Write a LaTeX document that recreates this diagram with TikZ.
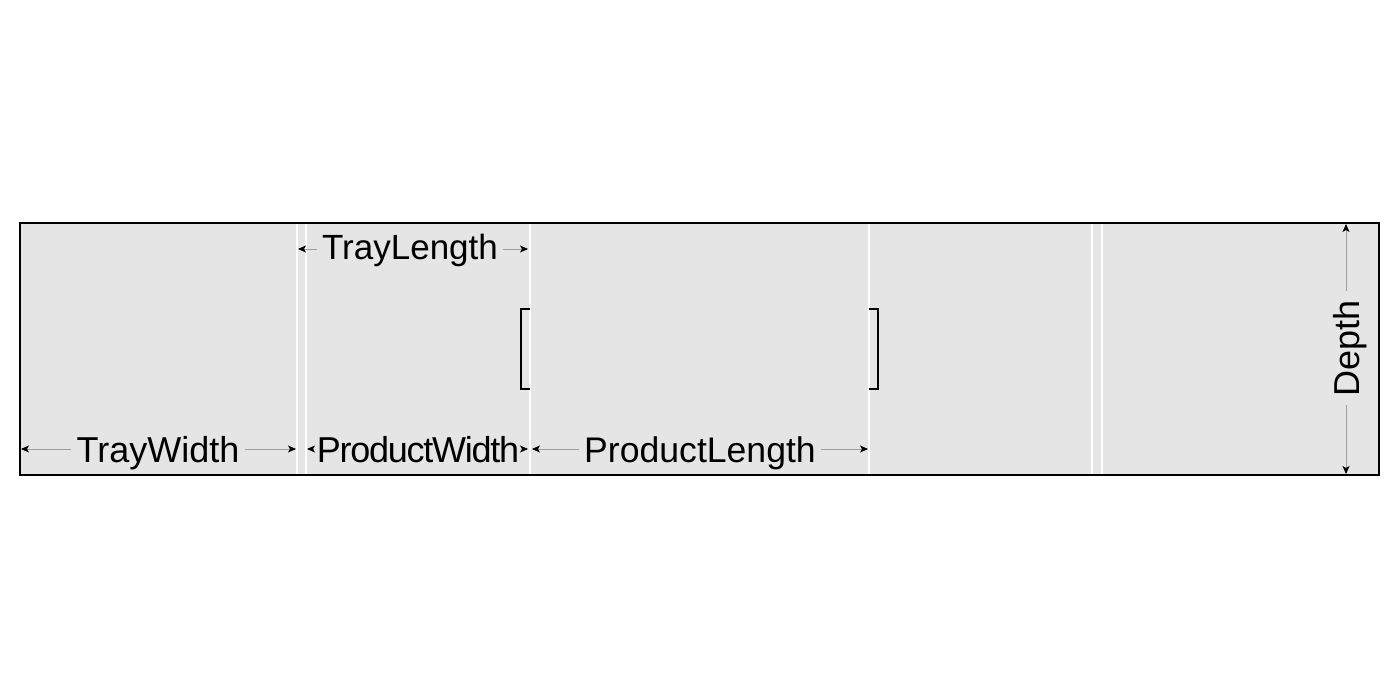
\documentclass[tikz,border=0pt]{standalone}
\usepackage{fontspec}
\setmainfont{Liberation Sans}
\newfontfamily\tightfont[LetterSpace=-3.5]{Liberation Sans}
\usetikzlibrary{arrows.meta}
\begin{document}
\begin{tikzpicture}[x=1pt,y=-1pt,
  dimline/.style={draw=black!38, line width=0.8pt, -{Stealth[length=8pt,width=7pt,inset=2pt,color=black]}},
  dimtext/.style={font=\fontsize{36}{40}\selectfont, inner xsep=5pt, inner ysep=0pt, text height=26pt, text depth=0pt},
  sep/.style={draw=white, line width=1.6pt},
  brk/.style={draw=black, line width=1.5pt}]
\useasboundingbox (0,0) rectangle (1400,700);
\fill[white] (0,0) rectangle (1400,700);
% tray
\path[fill=black!10] (20,223) rectangle (1379,475);
% separators
\foreach \x in {297,306,530,869,1092,1102}
  \draw[sep] (\x,224) -- (\x,474);
\draw[black, line width=1.5pt] (20,223) rectangle (1379,475);
% brackets
\draw[brk] (530,309) -- (521,309) -- (521,389) -- (530,389);
\draw[brk] (869,309) -- (878,309) -- (878,389) -- (869,389);
% coordinates
\coordinate (twL) at (21,449);
\coordinate (twR) at (296,449);
\coordinate (tlL) at (298,249);
\coordinate (tlR) at (528,249);
\coordinate (pwL) at (307,449);
\coordinate (pwR) at (528,449);
\coordinate (plL) at (532,449);
\coordinate (plR) at (868,449);
\coordinate (dT) at (1346,224);
\coordinate (dB) at (1346,474);
% labels
\node[dimtext] (tw) at (158,449) {TrayWidth};
\node[dimtext, font=\fontsize{35}{40}\selectfont] (tl) at (410,247) {TrayLength};
\node[dimtext, inner xsep=4pt, font=\tightfont\fontsize{36}{40}\selectfont] (pw) at (418,449) {ProductWidth};
\node[dimtext, font=\fontsize{35.6}{40}\selectfont] (pl) at (700,449) {ProductLength};
\node[dimtext, rotate=90, inner xsep=9pt] (dp) at (1346,348) {Depth};
% dimension lines
\draw[dimline] (tw.west) -- (twL);
\draw[dimline] (tw.east) -- (twR);
\draw[dimline] (tl.west |- tlL) -- (tlL);
\draw[dimline] (tl.east |- tlR) -- (tlR);
\draw[dimline] (pw.west) -- (pwL);
\draw[dimline] (pw.east) -- (pwR);
\draw[dimline] (pl.west) -- (plL);
\draw[dimline] (pl.east) -- (plR);
\draw[dimline] (dp.east) -- (dT);
\draw[dimline] (dp.west) -- (dB);
\end{tikzpicture}
\end{document}
